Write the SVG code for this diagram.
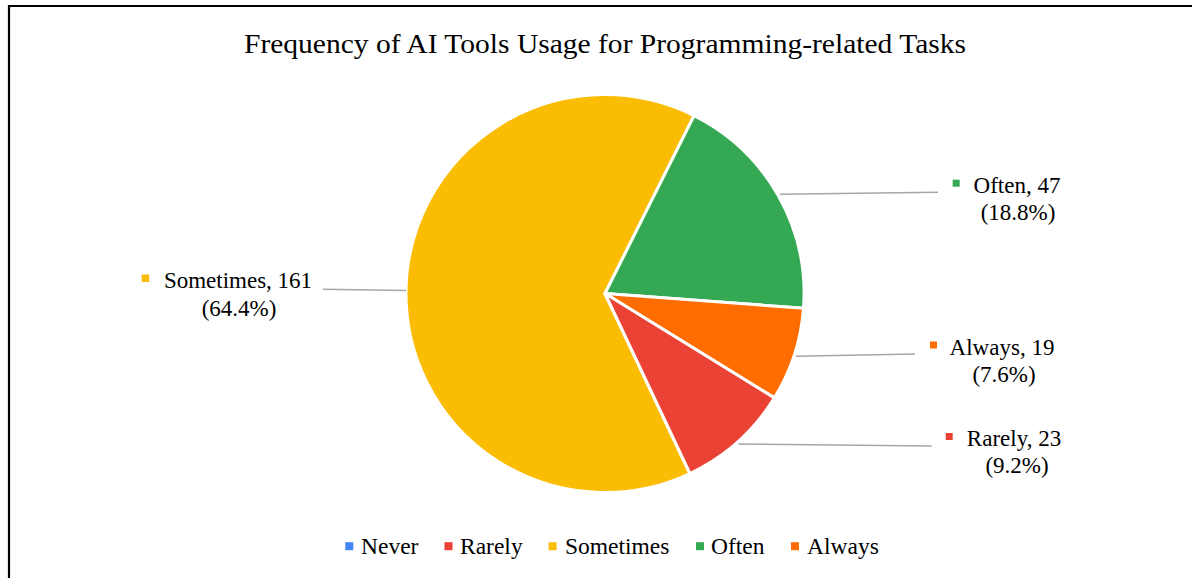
<svg xmlns="http://www.w3.org/2000/svg" width="1192" height="578" viewBox="0 0 1192 578">
  <style>
    text { font-family: "Liberation Serif", "Times New Roman", serif; fill: #000; }
    .title { font-size: 28px; }
    .lbl { font-size: 23px; text-anchor: middle; }
    .leg { font-size: 23.5px; }
    .slice { stroke: #fff; stroke-width: 3; stroke-linejoin: round; }
    .leader { stroke: #a6a6a6; stroke-width: 1.5; fill: none; }
    .never { fill: #4285f4; }
    .rarely { fill: #ea4335; }
    .sometimes { fill: #fbbc04; }
    .often { fill: #34a853; }
    .always { fill: #ff6d01; }
  </style>

  <rect width="1192" height="578" fill="#fff"/>
  <!-- chart frame (top and left edges) -->
  <path d="M9 578 V6 H1192" fill="none" stroke="#000" stroke-width="2.2"/>

  <text class="title" x="605" y="53" text-anchor="middle" textLength="722" lengthAdjust="spacingAndGlyphs">Frequency of AI Tools Usage for Programming-related Tasks</text>

  <!-- pie slices, center (605,293.5), r=199 -->
  <g id="slice-sometimes">
    <path class="slice sometimes" d="M605 293.5 L694.1 115.6 A199 199 0 1 0 689.9 473.5 Z"/>
  </g>
  <g id="slice-often">
    <path class="slice often" d="M605 293.5 L694.1 115.6 A199 199 0 0 1 803.5 308.3 Z"/>
  </g>
  <g id="slice-always">
    <path class="slice always" d="M605 293.5 L803.5 308.3 A199 199 0 0 1 774.4 397.9 Z"/>
  </g>
  <g id="slice-rarely">
    <path class="slice rarely" d="M605 293.5 L774.4 397.9 A199 199 0 0 1 689.9 473.5 Z"/>
  </g>

  <!-- leader lines -->
  <g id="connectors">
    <path class="leader" d="M780 194.3 L938 192.3"/>
    <path class="leader" d="M322.7 289.3 L406 290.5"/>
    <path class="leader" d="M796 356.3 L915 354"/>
    <path class="leader" d="M738.3 444 L931.7 446"/>
  </g>

  <!-- data labels -->
  <g id="label-often">
    <rect class="often" x="952.7" y="179.7" width="7" height="7"/>
    <text class="lbl" x="1017" y="193">Often, 47</text>
    <text class="lbl" x="1018" y="220">(18.8%)</text>
  </g>
  <g id="label-sometimes">
    <rect class="sometimes" x="141.7" y="274.5" width="7.5" height="7.5"/>
    <text class="lbl" x="238" y="288">Sometimes, 161</text>
    <text class="lbl" x="239" y="316">(64.4%)</text>
  </g>
  <g id="label-always">
    <rect class="always" x="930" y="341.5" width="7" height="7"/>
    <text class="lbl" x="1002" y="355">Always, 19</text>
    <text class="lbl" x="1004" y="382">(7.6%)</text>
  </g>
  <g id="label-rarely">
    <rect class="rarely" x="945.7" y="433" width="7" height="7"/>
    <text class="lbl" x="1014" y="446">Rarely, 23</text>
    <text class="lbl" x="1017" y="473">(9.2%)</text>
  </g>

  <!-- legend -->
  <g id="legend">
    <rect class="never" x="345.3" y="542.2" width="8" height="8"/>
    <text class="leg" x="361" y="554">Never</text>
    <rect class="rarely" x="444.5" y="542.2" width="8" height="8"/>
    <text class="leg" x="460" y="554">Rarely</text>
    <rect class="sometimes" x="548.6" y="542.2" width="8" height="8"/>
    <text class="leg" x="565" y="554">Sometimes</text>
    <rect class="often" x="696" y="542.2" width="8" height="8"/>
    <text class="leg" x="711" y="554">Often</text>
    <rect class="always" x="791" y="542.2" width="8" height="8"/>
    <text class="leg" x="807" y="554">Always</text>
  </g>
</svg>
